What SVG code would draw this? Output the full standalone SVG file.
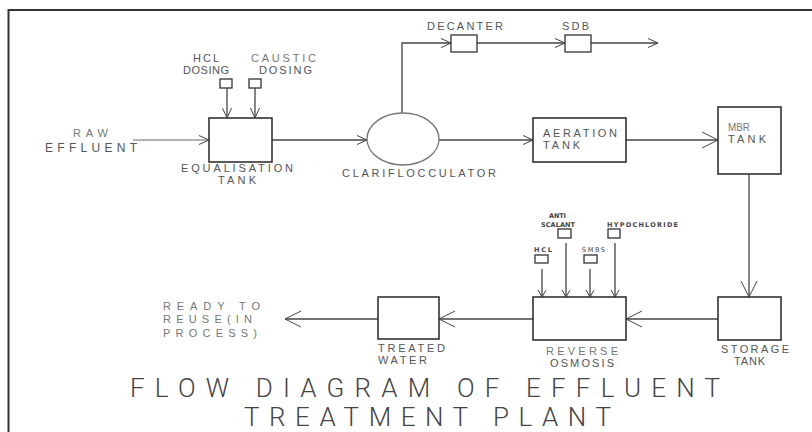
<svg xmlns="http://www.w3.org/2000/svg" width="812" height="432" viewBox="0 0 812 432">
<defs>
<marker id="a" markerUnits="userSpaceOnUse" markerWidth="12" markerHeight="12" refX="10" refY="5" orient="auto" viewBox="0 0 12 10"><path d="M0,0.5 L10,5 L0,9.5" fill="none" stroke="#444" stroke-width="1"/></marker>
<marker id="b" markerUnits="userSpaceOnUse" markerWidth="18" markerHeight="18" refX="16" refY="8" orient="auto" viewBox="0 0 18 16"><path d="M0,0 L16,8 L0,16" fill="none" stroke="#444" stroke-width="1"/></marker>
<marker id="c" markerUnits="userSpaceOnUse" markerWidth="9" markerHeight="10" refX="7" refY="4.5" orient="auto" viewBox="0 0 9 9"><path d="M0,0.5 L7,4.5 L0,8.5" fill="none" stroke="#444" stroke-width="1"/></marker>
</defs>
<style>
.bx{fill:#fff;stroke:#333;stroke-width:1.6}
.sb{fill:#fff;stroke:#333;stroke-width:1.3}
.ln{fill:none;stroke:#444;stroke-width:1.3}
.t{font-family:"Liberation Sans","DejaVu Sans",sans-serif;font-size:11px;fill:#555}
.g{fill:#777}
.s{font-family:"DejaVu Sans","Liberation Sans",sans-serif;font-size:6.5px;font-weight:bold;fill:#444}
.ti{font-family:"Roboto","Liberation Sans",sans-serif;font-weight:300;font-size:26px;fill:#444}
</style>
<rect x="0" y="0" width="812" height="432" fill="#fff"/>
<rect x="8.5" y="10" width="830" height="450" fill="none" stroke="#333" stroke-width="2"/>

<g id="connectors">
<line class="ln" x1="133" y1="140" x2="209" y2="140" style="stroke:#999" marker-end="url(#a)"/>
<line class="ln" x1="272" y1="140" x2="367" y2="140" marker-end="url(#a)"/>
<polyline class="ln" points="402,113 402,43 451,43" marker-end="url(#a)"/>
<line class="ln" x1="477" y1="43" x2="565" y2="43" marker-end="url(#a)"/>
<line class="ln" x1="591" y1="43" x2="658" y2="43" marker-end="url(#a)"/>
<line class="ln" x1="439" y1="140" x2="533" y2="140" marker-end="url(#a)"/>
<line class="ln" x1="626" y1="140" x2="718" y2="140" marker-end="url(#b)"/>
<line class="ln" x1="749" y1="174" x2="749" y2="297" marker-end="url(#b)"/>
<line class="ln" x1="718" y1="319" x2="626" y2="319" marker-end="url(#b)"/>
<line class="ln" x1="533" y1="319" x2="439" y2="319" marker-end="url(#b)"/>
<line class="ln" x1="378" y1="319" x2="285" y2="319" marker-end="url(#b)"/>
<line class="ln" x1="227" y1="88" x2="227" y2="118" marker-end="url(#a)"/>
<line class="ln" x1="255" y1="88" x2="255" y2="118" marker-end="url(#a)"/>
<line class="ln" x1="542" y1="269" x2="542" y2="297" marker-end="url(#c)"/>
<line class="ln" x1="566" y1="243" x2="566" y2="297" marker-end="url(#c)"/>
<line class="ln" x1="590" y1="269" x2="590" y2="297" marker-end="url(#c)"/>
<line class="ln" x1="615" y1="243" x2="615" y2="297" marker-end="url(#c)"/>
</g>

<g id="raw-effluent">
<text class="t g" x="73" y="137" textLength="35" lengthAdjust="spacing">RAW</text>
<text class="t" x="45" y="152" textLength="92" lengthAdjust="spacing" style="font-size:12px">EFFLUENT</text>
</g>

<g id="hcl-dosing">
<rect class="sb" x="220" y="79" width="12" height="9"/>
<text class="t" x="193" y="62" textLength="26" lengthAdjust="spacing">HCL</text>
<text class="t" x="183" y="74" textLength="46" lengthAdjust="spacing">DOSING</text>
</g>

<g id="caustic-dosing">
<rect class="sb" x="249" y="79" width="12" height="9"/>
<text class="t g" x="251" y="62" textLength="65" lengthAdjust="spacing">CAUSTIC</text>
<text class="t" x="259" y="74" textLength="53" lengthAdjust="spacing">DOSING</text>
</g>

<g id="equalisation-tank">
<rect class="bx" x="209" y="118" width="63" height="44"/>
<text class="t" x="181" y="172" textLength="112" lengthAdjust="spacing">EQUALISATION</text>
<text class="t" x="218" y="184" textLength="38" lengthAdjust="spacing">TANK</text>
</g>

<g id="clariflocculator">
<ellipse cx="403" cy="139" rx="36" ry="26" fill="#fff" stroke="#777" stroke-width="1.3"/>
<text class="t" x="342" y="177" textLength="154" lengthAdjust="spacing">CLARIFLOCCULATOR</text>
</g>

<g id="decanter">
<rect class="sb" x="451" y="35" width="26" height="17"/>
<text class="t" x="427" y="30" textLength="76" lengthAdjust="spacing">DECANTER</text>
</g>

<g id="sdb">
<rect class="sb" x="565" y="35" width="26" height="17"/>
<text class="t" x="562" y="30" textLength="27" lengthAdjust="spacing">SDB</text>
</g>

<g id="aeration-tank">
<rect class="bx" x="533" y="118" width="93" height="44"/>
<text class="t" x="543" y="137" textLength="74" lengthAdjust="spacing">AERATION</text>
<text class="t" x="543" y="149" textLength="37" lengthAdjust="spacing">TANK</text>
</g>

<g id="mbr-tank">
<rect class="bx" x="718" y="107" width="63" height="67"/>
<text class="t g" x="728" y="131" textLength="22" lengthAdjust="spacingAndGlyphs">MBR</text>
<text class="t" x="728" y="143" textLength="38" lengthAdjust="spacing">TANK</text>
</g>

<g id="storage-tank">
<rect class="bx" x="718" y="297" width="63" height="43"/>
<text class="t" x="721" y="353" textLength="68" lengthAdjust="spacing">STORAGE</text>
<text class="t" x="734" y="365" textLength="31" lengthAdjust="spacing">TANK</text>
</g>

<g id="reverse-osmosis">
<rect class="bx" x="533" y="297" width="93" height="43"/>
<text class="t g" x="546" y="355" textLength="72" lengthAdjust="spacing">REVERSE</text>
<text class="t" x="550" y="367" textLength="64" lengthAdjust="spacing">OSMOSIS</text>
</g>

<g id="hcl">
<rect class="sb" x="535" y="255" width="13" height="8"/>
<text class="s" x="534" y="252" textLength="18" lengthAdjust="spacing">HCL</text>
</g>

<g id="anti-scalant">
<rect class="sb" x="558" y="229" width="13" height="9"/>
<text class="s" x="549" y="218" textLength="17" lengthAdjust="spacing">ANTI</text>
<text class="s" x="541" y="227" textLength="34" lengthAdjust="spacing">SCALANT</text>
</g>

<g id="smbs">
<rect class="sb" x="584" y="255" width="13" height="8"/>
<text class="s" x="582" y="252" textLength="23" lengthAdjust="spacing" style="font-weight:normal">SMBS</text>
</g>

<g id="hypochloride">
<rect class="sb" x="608" y="229" width="12" height="9"/>
<text class="s" x="607" y="227" textLength="71" lengthAdjust="spacing">HYPOCHLORIDE</text>
</g>

<g id="treated-water">
<rect class="bx" x="378" y="297" width="61" height="42"/>
<text class="t" x="378" y="352" textLength="67" lengthAdjust="spacing">TREATED</text>
<text class="t" x="378" y="364" textLength="49" lengthAdjust="spacing">WATER</text>
</g>

<g id="ready-to-reuse">
<text class="t g" x="163" y="310" textLength="97" lengthAdjust="spacing">READY TO</text>
<text class="t g" x="163" y="323" textLength="89" lengthAdjust="spacing">REUSE(IN</text>
<text class="t g" x="163" y="337" textLength="94" lengthAdjust="spacing">PROCESS)</text>
</g>

<g id="title">
<text class="ti" x="130" y="397" textLength="590" lengthAdjust="spacing">FLOW DIAGRAM OF EFFLUENT</text>
<text class="ti" x="244" y="426" textLength="367" lengthAdjust="spacing">TREATMENT PLANT</text>
</g>
</svg>
